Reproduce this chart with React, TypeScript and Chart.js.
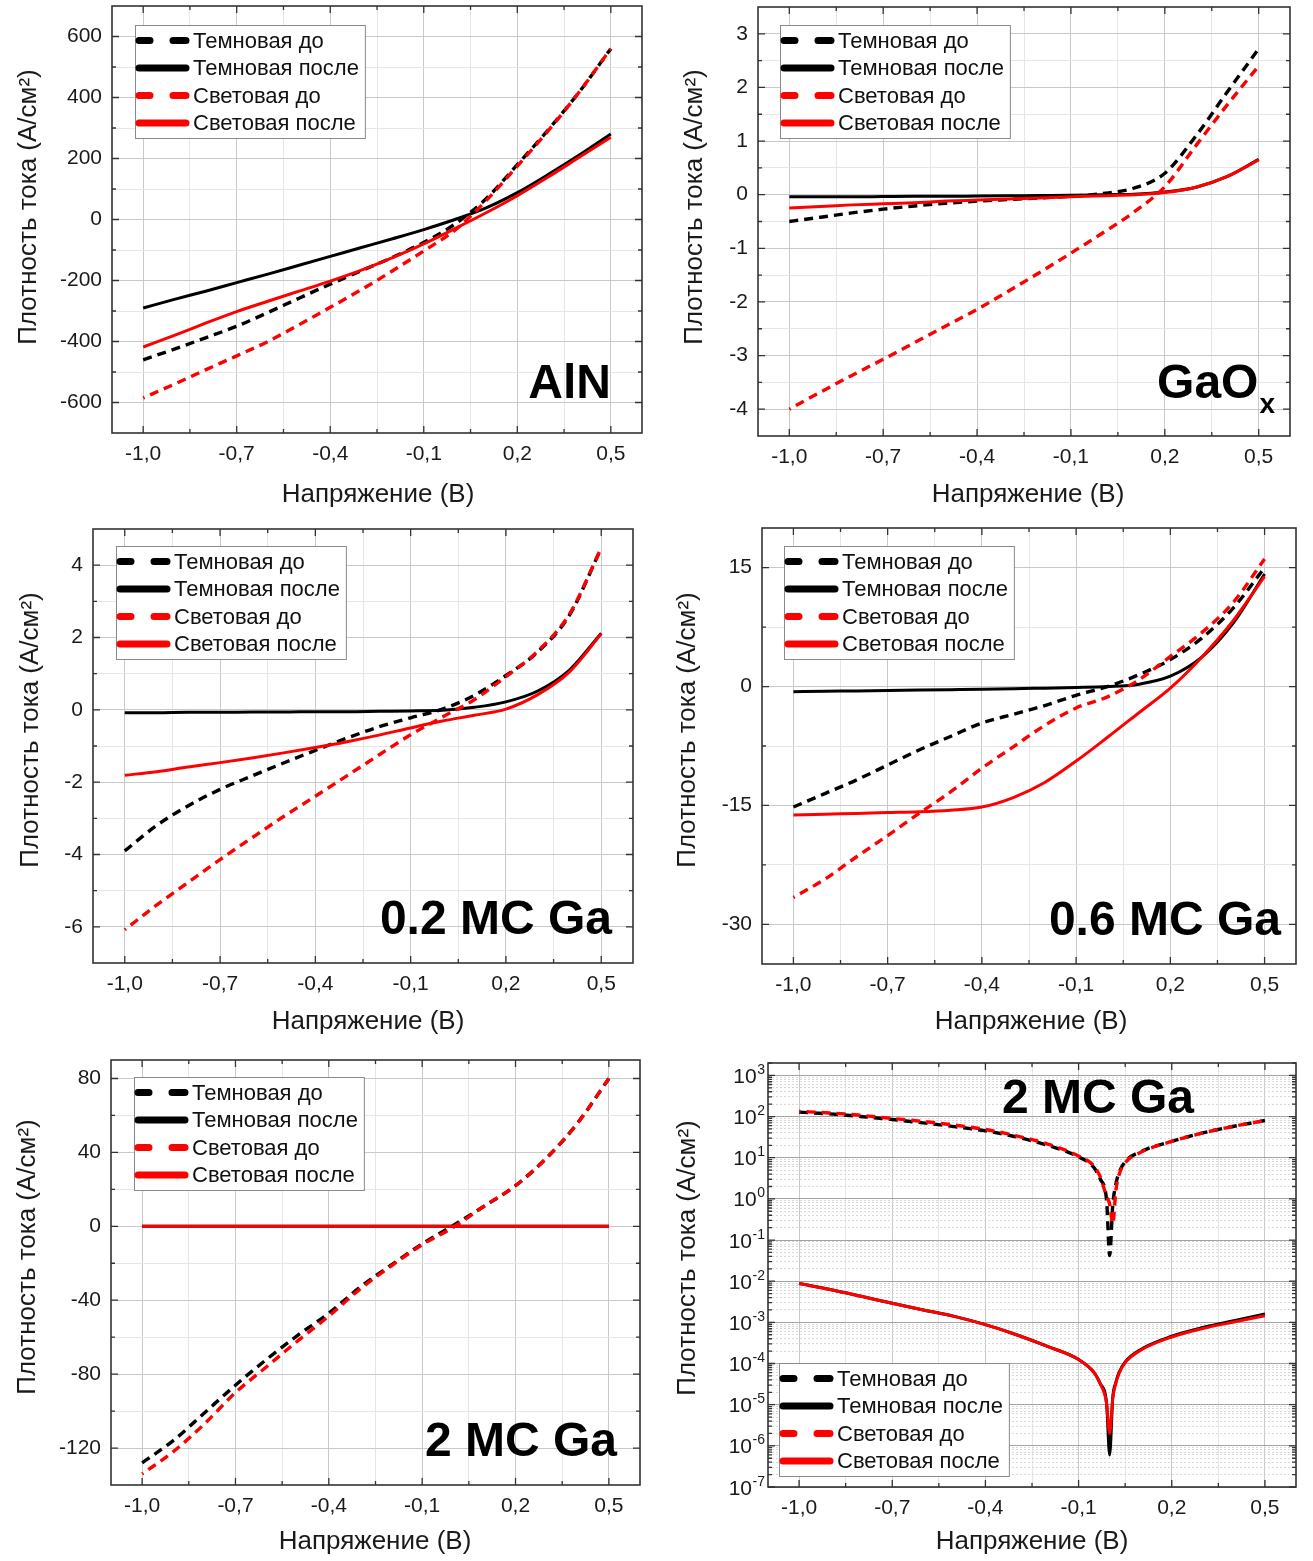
import React, { useEffect, useRef } from 'react';
import { Chart, registerables } from 'chart.js';

Chart.register(...registerables);

const FONT = '"Liberation Sans", Arial, Helvetica, sans-serif';
const TEXT = '#1a1a1a';
const BLACK = '#000000';
const RED = '#ff0000';
const GRID_MAJOR = '#c9c9c9';
const GRID_MINOR = '#e6e6e6';

const SERIES_LABELS = ['Темновая до', 'Темновая после', 'Световая до', 'Световая после'];
const SERIES_COLORS = [BLACK, BLACK, RED, RED];
const SERIES_DASHED = [true, false, true, false];

const X_TITLE = 'Напряжение (В)';
const Y_TITLE = 'Плотность тока (А/см²)';

const X_MIN = -1.1;
const X_MAX = 0.6;
const X_TICKS = [-1.0, -0.7, -0.4, -0.1, 0.2, 0.5];
const X_TICK_LABELS = ['-1,0', '-0,7', '-0,4', '-0,1', '0,2', '0,5'];

// Voltage samples (V)
const VOLTAGE = [-1.0, -0.9, -0.8, -0.7, -0.6, -0.5, -0.4, -0.3, -0.2, -0.1, 0.0, 0.1, 0.2, 0.3, 0.4, 0.5];

// ---- AlN ----
const ALN_DARK_BEFORE = [-460, -425, -388, -350, -305, -258, -212, -168, -124, -75, -15, 68, 180, 295, 420, 560];
const ALN_DARK_AFTER = [-290, -262, -235, -207, -179, -150, -121, -92, -63, -33, 0, 38, 88, 148, 212, 280];
const ALN_LIGHT_BEFORE = [-585, -540, -493, -447, -400, -345, -288, -230, -168, -103, -35, 62, 175, 292, 420, 560];
const ALN_LIGHT_AFTER = [-418, -380, -340, -302, -268, -235, -202, -166, -125, -80, -30, 22, 78, 140, 205, 270];
const ALN_Y_TICKS = [-600, -400, -200, 0, 200, 400, 600];

// ---- GaOx ----
const GAOX_DARK_BEFORE = [-0.5, -0.42, -0.34, -0.27, -0.21, -0.16, -0.12, -0.09, -0.06, -0.03, 0.02, 0.12, 0.4, 1.1, 1.92, 2.72];
const GAOX_DARK_AFTER = [-0.04, -0.04, -0.04, -0.035, -0.03, -0.03, -0.025, -0.02, -0.015, -0.01, 0.0, 0.01, 0.05, 0.14, 0.34, 0.66];
const GAOX_LIGHT_BEFORE = [-4.0, -3.68, -3.37, -3.07, -2.76, -2.45, -2.14, -1.8, -1.45, -1.09, -0.72, -0.33, 0.15, 0.92, 1.68, 2.4];
const GAOX_LIGHT_AFTER = [-0.25, -0.22, -0.19, -0.17, -0.15, -0.12, -0.1, -0.08, -0.06, -0.04, -0.02, 0.0, 0.04, 0.14, 0.34, 0.65];
const GAOX_Y_TICKS = [-4, -3, -2, -1, 0, 1, 2, 3];

// ---- 0.2 MC Ga ----
const GA02_DARK_BEFORE = [-3.9, -3.2, -2.65, -2.2, -1.83, -1.47, -1.12, -0.78, -0.47, -0.22, 0.02, 0.4, 0.95, 1.6, 2.62, 4.47];
const GA02_DARK_AFTER = [-0.08, -0.08, -0.07, -0.07, -0.06, -0.06, -0.05, -0.05, -0.04, -0.03, -0.01, 0.07, 0.22, 0.52, 1.1, 2.12];
const GA02_LIGHT_BEFORE = [-6.08, -5.4, -4.77, -4.14, -3.54, -2.95, -2.39, -1.82, -1.25, -0.69, -0.2, 0.28, 0.92, 1.62, 2.65, 4.47];
const GA02_LIGHT_AFTER = [-1.81, -1.71, -1.58, -1.46, -1.33, -1.19, -1.04, -0.88, -0.7, -0.5, -0.31, -0.15, 0.02, 0.42, 1.05, 2.1];
const GA02_Y_TICKS = [-6, -4, -2, 0, 2, 4];

// ---- 0.6 MC Ga ----
const GA06_DARK_BEFORE = [-15.2, -13.5, -11.8, -9.9, -8.0, -6.3, -4.6, -3.5, -2.4, -1.1, 0.0, 1.5, 3.4, 6.1, 9.9, 15.0];
const GA06_DARK_AFTER = [-0.65, -0.6, -0.55, -0.5, -0.45, -0.4, -0.35, -0.28, -0.2, -0.12, 0.0, 0.3, 1.3, 3.7, 8.0, 14.2];
const GA06_LIGHT_BEFORE = [-26.6, -24.3, -21.5, -18.8, -16.0, -13.3, -10.3, -7.6, -4.9, -2.7, -1.3, 0.85, 3.8, 6.8, 10.6, 16.1];
const GA06_LIGHT_AFTER = [-16.2, -16.1, -16.0, -15.9, -15.8, -15.6, -15.2, -14.0, -12.1, -9.4, -6.4, -3.3, -0.2, 3.7, 8.3, 13.9];
const GA06_Y_TICKS = [-30, -15, 0, 15];

// ---- 2 MC Ga (linear) ----
const GA2_DARK_BEFORE = [-128, -116, -101, -86, -72, -59, -47, -33, -21, -9.5, 0.5, 11, 22, 37, 56, 80];
const GA2_DARK_AFTER = [-0.009, -0.0063, -0.0043, -0.0029, -0.002, -0.0014, -0.00088, -0.0005, -0.00026, -0.000125, 0.000001, 0.00022, 0.00046, 0.00075, 0.0011, 0.0016];
const GA2_LIGHT_BEFORE = [-134, -122, -107, -90, -76, -62, -48.6, -34, -21.5, -10, -0.5, 11, 22, 37, 56, 80];
const GA2_LIGHT_AFTER = [-0.0088, -0.0063, -0.0043, -0.0029, -0.002, -0.0014, -0.00088, -0.0005, -0.00026, -0.000125, 0.000002, 0.00021, 0.00044, 0.00071, 0.00102, 0.00145];
const GA2_Y_TICKS = [-120, -80, -40, 0, 40, 80];

// ---- 2 MC Ga (log |J|) ----
const VOLTAGE_LOG = [-1.0, -0.9, -0.8, -0.7, -0.6, -0.5, -0.4, -0.3, -0.2, -0.1, -0.05, -0.03, -0.01, 0.0, 0.01, 0.02, 0.03, 0.05, 0.1, 0.2, 0.3, 0.4, 0.5];
const LOG_DARK_BEFORE = [128, 116, 100, 85, 70, 57, 45, 32, 20, 10.5, 5.7, 3.0, 0.95, 0.042, 0.7, 2.3, 4.3, 8.0, 14, 25, 40, 58, 80];
const LOG_DARK_AFTER = [8.8e-3, 6.3e-3, 4.3e-3, 2.9e-3, 2.0e-3, 1.4e-3, 8.8e-4, 5.0e-4, 2.6e-4, 1.25e-4, 6e-5, 3.2e-5, 1.1e-5, 6e-7, 1.5e-5, 3.5e-5, 6e-5, 1.1e-4, 2.2e-4, 4.6e-4, 7.5e-4, 1.1e-3, 1.6e-3];
const LOG_LIGHT_BEFORE = [134, 122, 107, 90, 76, 62, 48.6, 34, 21.5, 11, 6.2, 3.4, 1.15, 0.75, 0.25, 1.6, 3.8, 7.5, 13.5, 25, 40, 58, 80];
const LOG_LIGHT_AFTER = [8.8e-3, 6.3e-3, 4.3e-3, 2.9e-3, 2.0e-3, 1.4e-3, 8.8e-4, 5.0e-4, 2.6e-4, 1.25e-4, 6e-5, 3.2e-5, 1.1e-5, 2e-6, 1.4e-5, 3.3e-5, 5.7e-5, 1.05e-4, 2.1e-4, 4.4e-4, 7.1e-4, 1.02e-3, 1.45e-3];
const LOG_Y_EXPONENTS = [-7, -6, -5, -4, -3, -2, -1, 0, 1, 2, 3];

type PanelCfg = {
  key: string;
  area: [number, number, number, number]; // L T R B (page px)
  yTitle: [number, number];
  xTitle: [number, number];
  x: number[];
  series: number[][];
  log?: boolean;
  yMin: number;
  yMax: number;
  yTicks: number[];
  label: { text: string; sub?: string; dxR: number; dyB?: number; top?: number };
  legend: { dx: number; dy?: number; dyBottom?: number };
};

const PANELS: PanelCfg[] = [
  {
    key: 'aln', area: [112, 6, 642, 433], yTitle: [29, 207], xTitle: [378, 495],
    x: VOLTAGE, series: [ALN_DARK_BEFORE, ALN_DARK_AFTER, ALN_LIGHT_BEFORE, ALN_LIGHT_AFTER],
    yMin: -700, yMax: 700, yTicks: ALN_Y_TICKS,
    label: { text: 'AlN', dxR: 31, dyB: 35 }, legend: { dx: 23, dy: 19 },
  },
  {
    key: 'gaox', area: [758, 7, 1290, 436], yTitle: [695, 207], xTitle: [1028, 495],
    x: VOLTAGE, series: [GAOX_DARK_BEFORE, GAOX_DARK_AFTER, GAOX_LIGHT_BEFORE, GAOX_LIGHT_AFTER],
    yMin: -4.5, yMax: 3.5, yTicks: GAOX_Y_TICKS,
    label: { text: 'GaO', sub: 'x', dxR: 15, dyB: 38 }, legend: { dx: 22, dy: 18 },
  },
  {
    key: 'ga02', area: [93, 529, 633, 963], yTitle: [31, 730], xTitle: [368, 1022],
    x: VOLTAGE, series: [GA02_DARK_BEFORE, GA02_DARK_AFTER, GA02_LIGHT_BEFORE, GA02_LIGHT_AFTER],
    yMin: -7, yMax: 5, yTicks: GA02_Y_TICKS,
    label: { text: '0.2 MC Ga', dxR: 21, dyB: 29 }, legend: { dx: 23, dy: 17 },
  },
  {
    key: 'ga06', area: [762, 528, 1296, 964], yTitle: [688, 730], xTitle: [1031, 1022],
    x: VOLTAGE, series: [GA06_DARK_BEFORE, GA06_DARK_AFTER, GA06_LIGHT_BEFORE, GA06_LIGHT_AFTER],
    yMin: -35, yMax: 20, yTicks: GA06_Y_TICKS,
    label: { text: '0.6 MC Ga', dxR: 15, dyB: 29 }, legend: { dx: 22, dy: 18 },
  },
  {
    key: 'ga2', area: [111, 1060, 640, 1485], yTitle: [28, 1257], xTitle: [375, 1542],
    x: VOLTAGE, series: [GA2_DARK_BEFORE, GA2_DARK_AFTER, GA2_LIGHT_BEFORE, GA2_LIGHT_AFTER],
    yMin: -140, yMax: 90, yTicks: GA2_Y_TICKS,
    label: { text: '2 MC Ga', dxR: 23, dyB: 29 }, legend: { dx: 23, dy: 17 },
  },
  {
    key: 'ga2log', area: [768, 1063, 1296, 1487], yTitle: [688, 1258], xTitle: [1032, 1542],
    x: VOLTAGE_LOG, series: [LOG_DARK_BEFORE, LOG_DARK_AFTER, LOG_LIGHT_BEFORE, LOG_LIGHT_AFTER],
    log: true, yMin: 1e-7, yMax: 2000, yTicks: LOG_Y_EXPONENTS,
    label: { text: '2 MC Ga', dxR: 102, top: 50 }, legend: { dx: 11, dyBottom: 11 },
  },
];

type TickDef = { value: number; major: boolean };

function linearTicks(majors: number[], min: number, max: number): TickDef[] {
  const out: TickDef[] = [];
  const step = majors[1] - majors[0];
  const lo = majors[0] - step / 2;
  if (lo > min + 1e-9) out.push({ value: lo, major: false });
  majors.forEach((m, i) => {
    out.push({ value: m, major: true });
    if (i < majors.length - 1) out.push({ value: (m + majors[i + 1]) / 2, major: false });
  });
  const hi = majors[majors.length - 1] + step / 2;
  if (hi < max - 1e-9) out.push({ value: hi, major: false });
  return out;
}

function logTicks(exps: number[], max: number): TickDef[] {
  const out: TickDef[] = [];
  exps.forEach((e) => {
    for (let m = 1; m <= 9; m++) {
      const v = m * Math.pow(10, e);
      if (v <= max * 1.0001) out.push({ value: v, major: m === 1 });
    }
  });
  return out;
}

function makeDecor(cfg: PanelCfg, ox: number, oy: number) {
  return {
    id: 'decor',
    afterDatasetsDraw(chart: any) {
      const { ctx, chartArea: a } = chart;
      const xs = chart.scales.x;
      const ys = chart.scales.y;
      ctx.save();
      ctx.strokeStyle = '#333333';
      ctx.lineWidth = 1.3;
      ctx.beginPath();
      for (const t of xs.ticks) {
        const px = xs.getPixelForValue(t.value);
        const len = t.major ? 7 : 4;
        ctx.moveTo(px, a.bottom);
        ctx.lineTo(px, a.bottom - len);
        ctx.moveTo(px, a.top);
        ctx.lineTo(px, a.top + len);
      }
      for (const t of ys.ticks) {
        const py = ys.getPixelForValue(t.value);
        if (py < a.top - 0.5 || py > a.bottom + 0.5) continue;
        const len = t.major ? 7 : 4;
        ctx.moveTo(a.left, py);
        ctx.lineTo(a.left + len, py);
        ctx.moveTo(a.right, py);
        ctx.lineTo(a.right - len, py);
      }
      ctx.stroke();
      ctx.lineWidth = 1.6;
      ctx.strokeRect(a.left, a.top, a.right - a.left, a.bottom - a.top);
      ctx.restore();
    },
    afterDraw(chart: any) {
      const { ctx, chartArea: a } = chart;
      const ys = chart.scales.y;
      ctx.save();

      // log tick labels 10^n
      if (cfg.log) {
        ctx.fillStyle = TEXT;
        ctx.textBaseline = 'alphabetic';
        ctx.textAlign = 'left';
        for (const e of cfg.yTicks) {
          const py = ys.getPixelForValue(Math.pow(10, e));
          const es = String(e);
          ctx.font = `14px ${FONT}`;
          const ew = ctx.measureText(es).width;
          ctx.font = `21px ${FONT}`;
          const bw = ctx.measureText('10').width;
          const xr = a.left - 3;
          ctx.fillText('10', xr - ew - bw - 0.5, py + 7.5);
          ctx.font = `14px ${FONT}`;
          ctx.fillText(es, xr - ew, py - 1.5);
        }
      }

      // axis titles
      ctx.fillStyle = TEXT;
      ctx.font = `26px ${FONT}`;
      ctx.textAlign = 'center';
      ctx.textBaseline = 'middle';
      ctx.fillText(X_TITLE, cfg.xTitle[0] - ox, cfg.xTitle[1] - oy);
      ctx.save();
      ctx.translate(cfg.yTitle[0] - ox, cfg.yTitle[1] - oy);
      ctx.rotate(-Math.PI / 2);
      ctx.fillText(Y_TITLE, 0, 0);
      ctx.restore();

      // panel label
      ctx.fillStyle = '#000000';
      ctx.textAlign = 'right';
      ctx.textBaseline = 'alphabetic';
      let xr = a.right - cfg.label.dxR;
      const base = cfg.label.top != null ? a.top + cfg.label.top : a.bottom - (cfg.label.dyB || 0);
      if (cfg.label.sub) {
        ctx.font = `bold 28px ${FONT}`;
        const sw = ctx.measureText(cfg.label.sub).width;
        ctx.fillText(cfg.label.sub, xr, base + 15);
        xr -= sw + 1;
      }
      ctx.font = `bold 48px ${FONT}`;
      ctx.fillText(cfg.label.text, xr, base);

      // legend
      ctx.font = `22px ${FONT}`;
      const tw = Math.max(...SERIES_LABELS.map((s) => ctx.measureText(s).width));
      const rowH = 27.5;
      const bw = 59 + tw + 5;
      const bh = 113;
      const bx = Math.round(a.left + cfg.legend.dx);
      const by = Math.round(cfg.legend.dyBottom != null ? a.bottom - cfg.legend.dyBottom - bh : a.top + (cfg.legend.dy || 0));
      ctx.fillStyle = '#ffffff';
      ctx.fillRect(bx, by, bw, bh);
      ctx.strokeStyle = '#8a8a8a';
      ctx.lineWidth = 1;
      ctx.strokeRect(bx + 0.5, by + 0.5, bw, bh);
      SERIES_LABELS.forEach((lab, i) => {
        const cy = by + 15.5 + rowH * i;
        ctx.strokeStyle = SERIES_COLORS[i];
        ctx.lineWidth = 7;
        ctx.lineCap = 'round';
        ctx.beginPath();
        if (SERIES_DASHED[i]) {
          ctx.moveTo(bx + 4, cy);
          ctx.lineTo(bx + 15, cy);
          ctx.moveTo(bx + 38, cy);
          ctx.lineTo(bx + 51, cy);
        } else {
          ctx.moveTo(bx + 4, cy);
          ctx.lineTo(bx + 51, cy);
        }
        ctx.stroke();
        ctx.fillStyle = '#111111';
        ctx.textAlign = 'left';
        ctx.textBaseline = 'middle';
        ctx.fillText(lab, bx + 58, cy + 1);
      });
      ctx.restore();
    },
  };
}

function Panel({ cfg }: { cfg: PanelCfg }) {
  const ref = useRef<HTMLCanvasElement>(null);
  const [L, T, R, B] = cfg.area;
  const left = Math.max(0, cfg.yTitle[0] - 20);
  const top = T - 12;
  const right = R + 12;
  const bottom = cfg.xTitle[1] + 18;
  const w = right - left;
  const h = bottom - top;

  useEffect(() => {
    const canvas = ref.current;
    if (!canvas) return;
    const xTickList = linearTicks(X_TICKS, X_MIN, X_MAX);
    const yTickList = cfg.log ? logTicks(cfg.yTicks, cfg.yMax) : linearTicks(cfg.yTicks, cfg.yMin, cfg.yMax);
    const yAxisW = L - left;
    const xAxisH = bottom - B;

    const datasets = cfg.series.map((ys, i) => ({
      label: SERIES_LABELS[i],
      data: cfg.x.map((x, j) => ({ x, y: ys[j] })),
      borderColor: SERIES_COLORS[i],
      backgroundColor: SERIES_COLORS[i],
      borderWidth: SERIES_DASHED[i] ? 3.4 : 3.0,
      borderDash: SERIES_DASHED[i] ? [9, 6] : [],
      borderDashOffset: i === 2 ? 7.5 : 0,
      borderJoinStyle: 'round' as const,
      pointRadius: 0,
      fill: false,
      cubicInterpolationMode: 'monotone' as const,
      order: 4 - i,
    }));

    const chart = new Chart(canvas, {
      type: 'line',
      data: { datasets },
      options: {
        animation: false,
        responsive: false,
        events: [],
        devicePixelRatio: 1,
        layout: { padding: { top: 12, right: 12, left: 0, bottom: 0 } },
        plugins: { legend: { display: false }, tooltip: { enabled: false } },
        scales: {
          x: {
            type: 'linear',
            min: X_MIN,
            max: X_MAX,
            afterBuildTicks: (s: any) => {
              s.ticks = xTickList.map((t) => ({ value: t.value, major: t.major }));
            },
            afterFit: (s: any) => {
              s.height = xAxisH;
              s.paddingLeft = 0;
              s.paddingRight = 0;
              s.paddingTop = 0;
              s.paddingBottom = 0;
            },
            ticks: {
              autoSkip: false,
              maxRotation: 0,
              minRotation: 0,
              padding: 9,
              color: TEXT,
              font: { family: FONT, size: 21 },
              callback: (v: any) => {
                const i = X_TICKS.findIndex((m) => Math.abs(m - Number(v)) < 1e-6);
                return i >= 0 ? X_TICK_LABELS[i] : '';
              },
            },
            grid: {
              drawTicks: false,
              lineWidth: 1,
              color: (c: any) => (c.tick && c.tick.major ? GRID_MAJOR : GRID_MINOR),
            },
            border: { display: false },
          },
          y: {
            type: cfg.log ? 'logarithmic' : 'linear',
            min: cfg.yMin,
            max: cfg.yMax,
            afterBuildTicks: (s: any) => {
              s.ticks = yTickList.map((t) => ({ value: t.value, major: t.major }));
            },
            afterFit: (s: any) => {
              s.width = yAxisW;
              s.paddingLeft = 0;
              s.paddingRight = 0;
              s.paddingTop = 0;
              s.paddingBottom = 0;
            },
            ticks: {
              autoSkip: false,
              padding: 10,
              color: TEXT,
              font: { family: FONT, size: 21 },
              callback: (v: any) => {
                if (cfg.log) return '';
                const n = Number(v);
                const i = cfg.yTicks.findIndex((m) => Math.abs(m - n) < 1e-6 * (cfg.yMax - cfg.yMin));
                return i >= 0 ? String(cfg.yTicks[i]) : '';
              },
            },
            grid: {
              drawTicks: false,
              lineWidth: 1,
              color: (c: any) => {
                if (!c.tick) return 'transparent';
                if (cfg.log) return c.tick.major ? '#a3a3a3' : '#d9d9d9';
                return c.tick.major ? GRID_MAJOR : GRID_MINOR;
              },
            },
            border: {
              display: false,
              dash: (c: any) => (cfg.log && c.tick && !c.tick.major ? [2, 2] : []),
            },
          },
        },
      } as any,
      plugins: [makeDecor(cfg, left, top)],
    });
    return () => chart.destroy();
  }, []);

  return (
    <canvas
      ref={ref}
      width={w}
      height={h}
      style={{ position: 'absolute', left, top, width: w, height: h, display: 'block' }}
    />
  );
}

export default function App() {
  return (
    <div
      style={{
        position: 'absolute',
        left: 0,
        top: 0,
        width: 1313,
        height: 1561,
        background: '#ffffff',
        overflow: 'hidden',
      }}
    >
      {PANELS.map((p) => (
        <Panel key={p.key} cfg={p} />
      ))}
    </div>
  );
}
